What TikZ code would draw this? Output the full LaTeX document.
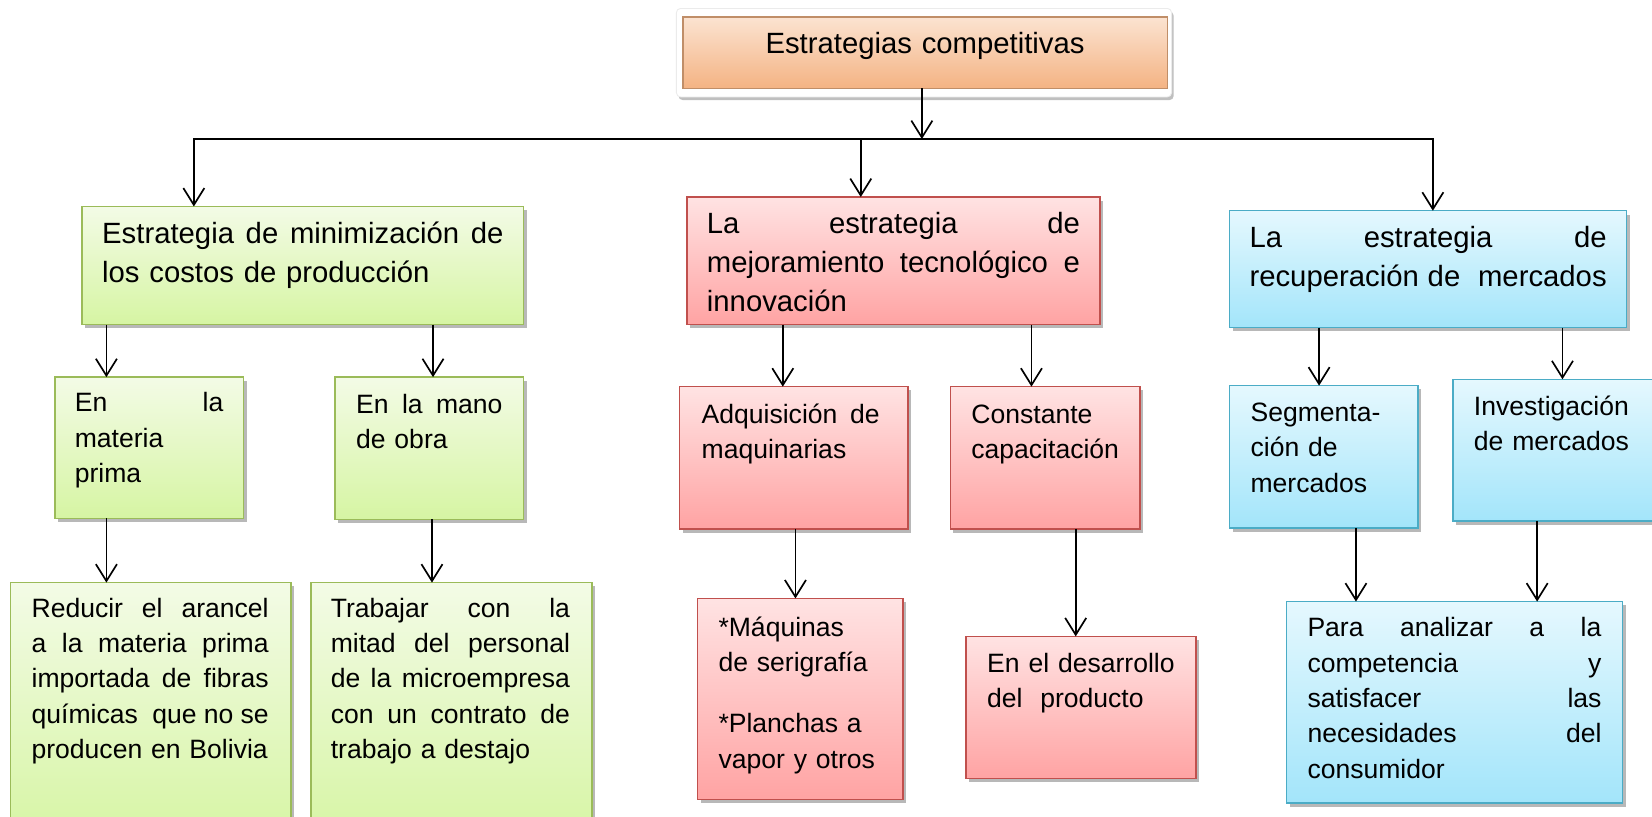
\documentclass[tikz,border=0pt]{standalone}
\usepackage{fontspec}
\setmainfont{Liberation Sans}
\usetikzlibrary{arrows.meta,shadows}
\definecolor{grnT}{HTML}{F3FBE6}
\definecolor{grnB}{HTML}{D6F5A3}
\definecolor{grnD}{HTML}{9BBB59}
\definecolor{redT}{HTML}{FFE3E3}
\definecolor{redB}{HTML}{FFA3A3}
\definecolor{redD}{HTML}{C0504D}
\definecolor{bluT}{HTML}{E5F8FE}
\definecolor{bluB}{HTML}{A3E5FA}
\definecolor{bluD}{HTML}{4BACC6}
\definecolor{orT}{HTML}{FBE3D1}
\definecolor{orB}{HTML}{F4B383}
\definecolor{orD}{HTML}{C08E68}
\newcommand\jst[2][\linewidth]{\makebox[#1][s]{\spaceskip=0pt\xspaceskip=0pt\relax #2}}
\begin{document}
\begin{tikzpicture}[x=0.5pt,y=-0.5pt,
  cbox/.style={anchor=north west, inner ysep=0pt, outer sep=0pt, align=left, line width=0.7pt,
    drop shadow={shadow xshift=1.5pt,shadow yshift=-1.8pt,opacity=0.28,fill=black}},
  gbox/.style={cbox, draw=grnD, top color=grnT, bottom color=grnB},
  rbox/.style={cbox, draw=redD, top color=redT, bottom color=redB},
  bbox/.style={cbox, draw=bluD, top color=bluT, bottom color=bluB},
  topframe/.style={anchor=north west, inner sep=0pt, outer sep=0pt, fill=white, draw=black!8,
    rounded corners=2pt, drop shadow={shadow xshift=1pt,shadow yshift=-1.5pt,opacity=0.25,fill=black}},
  obox/.style={anchor=north west, inner ysep=0pt, outer sep=0pt, line width=0.8pt, draw=orD,
    top color=orT, bottom color=orB},
  fa/.style={font=\fontsize{13.9pt}{18.5pt}\selectfont},
  fb/.style={font=\fontsize{12.6pt}{16.75pt}\selectfont},
  arr/.style={line width=0.8pt, -{Straight Barb[length=8pt,width=10pt]}},
  conn/.style={line width=0.8pt}]
\useasboundingbox (0,0) rectangle (1568,775);

% top
\node[topframe, minimum width=235pt, minimum height=42pt] (frm) at (642,8) {};
\node[obox, fa, align=center, inner xsep=0pt, text width=230pt, text height=17.5pt, text depth=16.5pt] (top) at (648,16) {Estrategias competitivas};

% level 1
\node[gbox, fa, inner xsep=9.5pt, text width=190.5pt, text height=17.5pt, text depth=38.5pt] (g1) at (78,196)
  {\jst{Estrategia de minimización de}\\los costos de producción};
\node[rbox, fa, inner xsep=9.5pt, text width=177pt, text height=17.5pt, text depth=43pt] (r1) at (652,187)
  {\jst{La estrategia de}\\\jst{mejoramiento tecnológico e}\\innovación};
\node[bbox, fa, inner xsep=9.5pt, text width=169.5pt, text height=17.5pt, text depth=38pt] (b1) at (1167,200)
  {\jst{La estrategia de}\\\jst{recuperación de\ \ mercados}};

% level 2
\node[gbox, fb, inner xsep=9.5pt, text width=70.5pt, text height=16.5pt, text depth=50.5pt] (g2a) at (52,358)
  {\jst{En la}\\materia\\prima};
\node[gbox, fb, inner xsep=10pt, text width=69.5pt, text height=17pt, text depth=50.5pt] (g2b) at (318,358)
  {\jst{En la mano}\\de obra};
\node[rbox, fb, inner xsep=10.5pt, text width=87.5pt, text height=17.5pt, text depth=50pt] (r2a) at (645,367)
  {\jst[84.5pt]{Adquisición de}\\maquinarias};
\node[rbox, fb, inner xsep=10pt, text width=70pt, text height=17.5pt, text depth=50pt] (r2b) at (902,367)
  {Constante\\capacitación};
\node[bbox, fb, inner xsep=10pt, text width=69.5pt, text height=17pt, text depth=50.5pt] (b2a) at (1167,366)
  {Segmenta-\\ción de\\mercados};
\node[bbox, fb, inner xsep=10pt, text width=78pt, text height=17pt, text depth=50.25pt] (b2b) at (1379,360)
  {Investigación\\de mercados};

% level 3
\node[gbox, fb, inner xsep=10pt, text width=113pt, text height=16.5pt, text depth=107pt] (g3a) at (10,553)
  {\jst[112.5pt]{Reducir el arancel}\\\jst[112.5pt]{a la materia prima}\\\jst[112.5pt]{importada de fibras}\\\jst[112.5pt]{químicas\ \ que no se}\\producen en Bolivia};
\node[gbox, fb, inner xsep=9.5pt, text width=114.5pt, text height=16.5pt, text depth=107pt] (g3b) at (295,553)
  {\jst[113.5pt]{Trabajar con la}\\\jst[113.5pt]{mitad del personal}\\\jst[113.5pt]{de la microempresa}\\\jst[113.5pt]{con un contrato de}\\trabajo a destajo};
\node[rbox, fb, inner xsep=10pt, text width=77.5pt, text height=18pt, text depth=77.5pt] (r3a) at (662,568)
  {*Máquinas\\de serigrafía\\[12.25pt]*Planchas a\\vapor y otros};
\node[rbox, fb, inner xsep=10pt, text width=89pt, text height=17pt, text depth=50.5pt] (r3b) at (917,604)
  {En el desarrollo\\del\ \ producto};
\node[bbox, fb, inner xsep=10pt, text width=139.5pt, text height=16.75pt, text depth=78.75pt] (b3) at (1221,571)
  {\jst{Para analizar a la}\\\jst{competencia y}\\\jst{satisfacer las}\\\jst{necesidades del}\\consumidor};

% connectors from the top
\coordinate (hub) at (875,132);
\coordinate (hl) at (184,132);
\coordinate (hm) at (817,132);
\coordinate (hr) at (1360,132);
\draw[arr] (top.south -| hub) -- (hub);
\draw[arr, line join=miter] (hm) -- (hl) -- (g1.north -| hl);
\draw[arr, line join=miter] (hm) -- (hr) -- (b1.north -| hr);
\draw[arr] (hm) -- (r1.north -| hm);

% level 1 -> level 2
\coordinate (xa) at (101,0);
\coordinate (xb) at (411,0);
\coordinate (xc) at (743,0);
\coordinate (xd) at (979,0);
\coordinate (xe) at (1252,0);
\coordinate (xf) at (1483,0);
\draw[arr] (g1.south -| xa) -- (g2a.north -| xa);
\draw[arr] (g1.south -| xb) -- (g2b.north -| xb);
\draw[arr] (r1.south -| xc) -- (r2a.north -| xc);
\draw[arr] (r1.south -| xd) -- (r2b.north -| xd);
\draw[arr] (b1.south -| xe) -- (b2a.north -| xe);
\draw[arr] (b1.south -| xf) -- (b2b.north -| xf);

% level 2 -> level 3
\coordinate (ya) at (101,0);
\coordinate (yb) at (410,0);
\coordinate (yc) at (755,0);
\coordinate (yd) at (1021,0);
\coordinate (ye) at (1287,0);
\coordinate (yf) at (1459,0);
\draw[arr] (g2a.south -| ya) -- (g3a.north -| ya);
\draw[arr] (g2b.south -| yb) -- (g3b.north -| yb);
\draw[arr] (r2a.south -| yc) -- (r3a.north -| yc);
\draw[arr] (r2b.south -| yd) -- (r3b.north -| yd);
\draw[arr] (b2a.south -| ye) -- (b3.north -| ye);
\draw[arr] (b2b.south -| yf) -- (b3.north -| yf);
\end{tikzpicture}
\end{document}
